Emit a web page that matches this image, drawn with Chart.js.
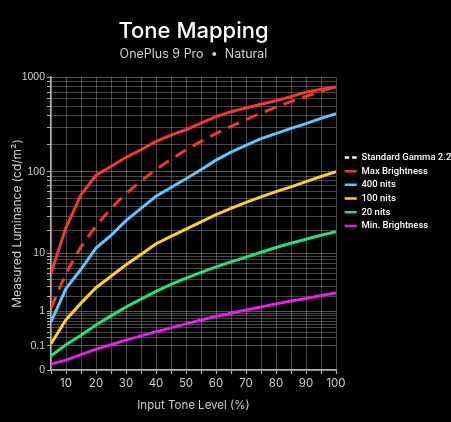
<!DOCTYPE html>
<html>
<head>
<meta charset="utf-8">
<script src="https://cdn.jsdelivr.net/npm/chart.js@4.4.1/dist/chart.umd.min.js"></script>
<style>
  html, body { margin: 0; padding: 0; background: #000; }
  #wrap { width: 451px; height: 422px; }
</style>
</head>
<body>
<div id="wrap"><canvas id="c" width="451" height="422"></canvas></div>
<script>
// ---------------- data ----------------
const toneLevels = [5, 10, 15, 20, 25, 30, 35, 40, 45, 50, 55, 60, 65, 70, 75, 80, 85, 90, 95, 100];
const gamma22    = [1.2, 5, 12.3, 23, 38, 57, 79, 107, 138, 174, 215, 260, 310, 365, 425, 490, 560, 634, 715, 800];
const maxBright  = [5, 22, 55, 92, 115, 145, 175, 215, 250, 285, 335, 390, 440, 480, 525, 570, 630, 700, 750, 790];
const nits400    = [0.57, 2.8, 5.8, 11.8, 17.5, 27, 38, 53, 67, 84, 106, 135, 165, 195, 230, 260, 295, 330, 375, 420];
const nits100    = [0.12, 0.65, 1.5, 2.9, 4.5, 6.8, 9.6, 13.5, 17, 21, 26, 32, 38, 45, 52, 60, 68, 78, 89, 101];
const nits20     = [0.03, 0.11, 0.24, 0.48, 0.8, 1.25, 1.8, 2.5, 3.3, 4.2, 5.2, 6.3, 7.5, 8.8, 10.3, 12, 13.7, 15.5, 17.5, 19.5];
const minBright  = [0.005, 0.014, 0.035, 0.07, 0.11, 0.165, 0.23, 0.31, 0.4, 0.51, 0.64, 0.78, 0.92, 1.08, 1.25, 1.45, 1.65, 1.85, 2.1, 2.35];

const seriesNames = ['Standard Gamma 2.2', 'Max Brightness', '400 nits', '100 nits', '20 nits', 'Min. Brightness'];

const xLabelTicks  = [10, 20, 30, 40, 50, 60, 70, 80, 90, 100];
const yMajorTicks  = [0, 0.1, 1, 10, 100, 1000];
const yMajorLabels = ['0', '0.1', '1', '10', '100', '1000'];
const yMinorTicks  = [0.2, 0.3, 0.4, 0.5, 0.6, 0.7, 0.8, 0.9, 2, 3, 4, 5, 6, 7, 8, 9, 20, 30, 40, 50, 60, 70, 80, 90, 200, 300, 400, 500, 600, 700, 800, 900];

// ---------------- PQ (SMPTE ST 2084) luminance scale ----------------
const M1 = 2610 / 16384, M2 = 2523 / 4096 * 128, C1 = 3424 / 4096, C2 = 2413 / 4096 * 32, C3 = 2392 / 4096 * 32;
function pq(L) {
  const p = Math.pow(Math.max(L, 0) / 10000, M1);
  return Math.pow((C1 + C2 * p) / (1 + C3 * p), M2);
}
function pqInv(E) {
  const e = Math.pow(Math.max(E, 0), 1 / M2);
  const p = Math.max(e - C1, 0) / (C2 - C3 * e);
  return 10000 * Math.pow(p, 1 / M1);
}
class PQScale extends Chart.Scale {
  determineDataLimits() {
    this.min = this.options.min ?? 0;
    this.max = this.options.max ?? 1000;
  }
  buildTicks() {
    const all = yMajorTicks.map(v => ({ value: v, major: true }))
      .concat(yMinorTicks.map(v => ({ value: v, major: false })));
    all.sort((a, b) => a.value - b.value);
    return all;
  }
  getLabelForValue(v) { return String(v); }
  configure() {
    super.configure();
    this._pqStart = pq(this.min);
    this._pqRange = pq(this.max) - this._pqStart;
  }
  getPixelForValue(v) {
    return this.getPixelForDecimal((pq(v) - this._pqStart) / this._pqRange);
  }
  getValueForPixel(p) {
    return pqInv(this.getDecimalForPixel(p) * this._pqRange + this._pqStart);
  }
}
PQScale.id = 'pq';
PQScale.defaults = {};
Chart.register(PQScale);

// ---------------- datasets ----------------
function pts(vals) { return toneLevels.map((x, i) => ({ x: x, y: vals[i] })); }
const colors = ['#f2392d', '#f2392d', '#5ac8fa', '#fdcf2a', '#22e07c', '#e620e6'];
const valueSets = [gamma22, maxBright, nits400, nits100, nits20, minBright];

const datasets = valueSets.map((vals, i) => ({
  label: seriesNames[i],
  data: pts(vals),
  borderColor: colors[i],
  backgroundColor: colors[i],
  borderWidth: 3,
  borderDash: i === 0 ? [12, 8] : [],
  pointRadius: 0,
  tension: 0,
  fill: false
}));

const legendPlace = {
  id: 'legendPlace',
  beforeLayout(chart) {
    const lg = chart.legend;
    if (lg && !lg.__patched) {
      lg.__patched = true;
      const orig = lg.fit;
      lg.fit = function () { orig.call(this); this.width = 115; };
    }
  },
  afterLayout(chart) {
    const lg = chart.legend;
    if (!lg) return;
    lg.left = 340.5; lg.right = 451;
    lg.top = 148.5; lg.bottom = lg.top + lg.height;
  }
};

const gridCol = 'rgba(255,255,255,0.27)';
const axisCol = '#b5b5b5';
const textCol = '#cfcfcf';

new Chart(document.getElementById('c'), {
  type: 'line',
  data: { datasets: datasets },
  plugins: [legendPlace],
  options: {
    responsive: false,
    devicePixelRatio: 1,
    animation: false,
    layout: { padding: 0 },
    plugins: {
      title: {
        display: true,
        fullSize: false,
        text: 'Tone Mapping',
        color: '#ffffff',
        font: { family: 'Inter, sans-serif', size: 22, weight: '500', lineHeight: 1.2 },
        padding: { top: 17.8, bottom: 0 }
      },
      subtitle: {
        display: true,
        fullSize: false,
        text: 'OnePlus 9 Pro  •  Natural',
        color: '#d2d2d2',
        font: { family: 'Inter, sans-serif', size: 12.5, weight: '400', lineHeight: 1.2 },
        padding: { top: 2.8, bottom: 15 }
      },
      legend: {
        display: true,
        position: 'right',
        align: 'start',
        labels: {
          color: '#ffffff',
          font: { family: 'Roboto, sans-serif', size: 9.5, weight: '500' },
          usePointStyle: true,
          pointStyle: 'line',
          pointStyleWidth: 12,
          padding: 4.2,
          generateLabels(chart) {
            const items = Chart.defaults.plugins.legend.labels.generateLabels(chart);
            items.forEach(it => {
              it.pointStyle = 'line';
              it.lineWidth = 2.5;
              if (it.datasetIndex === 0) { it.strokeStyle = '#ffffff'; it.lineDash = [4.5, 3]; }
              else { it.lineDash = []; }
            });
            return items;
          }
        }
      },
      tooltip: { enabled: false }
    },
    scales: {
      x: {
        type: 'linear',
        min: 5,
        max: 100,
        afterFit(s) { s.height = 52; },
        ticks: {
          stepSize: 5,
          autoSkip: false,
          maxRotation: 0,
          padding: 3,
          color: textCol,
          font: { family: 'Inter, sans-serif', size: 11.5 },
          callback: v => xLabelTicks.includes(v) ? String(v) : ''
        },
        grid: { color: gridCol, lineWidth: 1, tickLength: 4, tickColor: axisCol, tickWidth: 1.2 },
        border: { display: true, color: axisCol, width: 1.5 },
        title: {
          display: true,
          text: 'Input Tone Level (%)',
          color: textCol,
          font: { family: 'Inter, sans-serif', size: 11.5 },
          padding: { top: 0, bottom: 10 }
        }
      },
      y: {
        type: 'pq',
        min: 0,
        max: 1000,
        afterFit(s) { s.width = 51; },
        ticks: {
          autoSkip: false,
          padding: 2,
          color: textCol,
          font: { family: "'Liberation Sans Narrow', 'Liberation Sans', sans-serif", size: 10.5 },
          callback: function (v) {
            const k = yMajorTicks.indexOf(v);
            return k >= 0 ? yMajorLabels[k] : '';
          }
        },
        grid: {
          color: ctx => (ctx.tick && ctx.tick.major) ? 'rgba(255,255,255,0.33)' : gridCol,
          lineWidth: 1,
          tickLength: 4,
          tickColor: axisCol,
          tickWidth: 1
        },
        border: { display: true, color: axisCol, width: 1.5 },
        title: {
          display: true,
          text: 'Measured Luminance (cd/m²)',
          color: textCol,
          font: { family: 'Inter, sans-serif', size: 12 },
          padding: { top: 10, bottom: 0 }
        }
      }
    }
  }
});
</script>
</body>
</html>
